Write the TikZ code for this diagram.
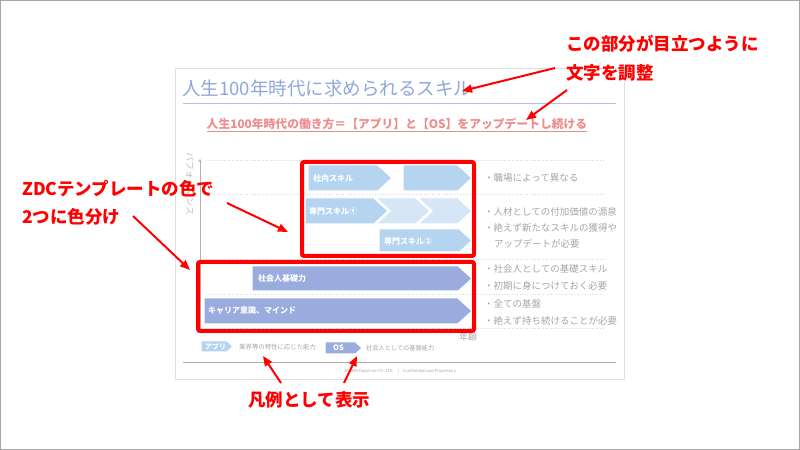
\documentclass[tikz,border=0pt]{standalone}
\usepackage{fontspec}
\setmainfont{Noto Sans CJK JP}
\usepackage{tikz}
\usetikzlibrary{positioning}
\usetikzlibrary{arrows.meta}
\definecolor{appblue}{HTML}{B4D4F0}
\definecolor{applight}{HTML}{D6E6F6}
\definecolor{osblue}{HTML}{9AABDD}
\definecolor{titleblue}{HTML}{8FA8DC}
\definecolor{subred}{HTML}{EC8E8E}
\definecolor{notegray}{HTML}{A6A6A6}
\newcommand{\px}[1]{\fontsize{#1bp}{#1bp}\selectfont}
% x1, x2, top, bottom, notch (0/1)
\newcommand{\skillbar}[6][appblue]{%
  \fill[#1,draw=white,line width=1bp] (#2,#4) -- ({#3-0.55*(#5-#4)},#4) -- (#3,{(#4+#5)/2})
    -- ({#3-0.55*(#5-#4)},#5) -- (#2,#5) -- ({#2+#6*0.55*(#5-#4)},{(#4+#5)/2}) -- cycle;}
\tikzset{
  x=1bp,y=-1bp,
  every node/.style={inner sep=0pt},
  redbox/.style={draw=red,line width=4bp,rounded corners=2bp},
  callout/.style={text=red,font=\px{17.5}\bfseries,anchor=west},
  pointer/.style={draw=red,line width=2bp,-{Triangle[length=10bp,width=8bp]}},
  barlabel/.style={text=white,font=\px{8}\bfseries,anchor=west},
  note/.style={text=notegray,font=\px{9.5},anchor=west},
  gridline/.style={draw=black!15,dotted,line width=0.6bp}
}

\begin{document}
\begin{tikzpicture}
  \useasboundingbox (0,0) rectangle (800,450);
  \draw[black!35,line width=1.5bp] (0.75,0.75) rectangle (799.25,449.25);
  % slide
  \draw[black!12,fill=white] (175,68) rectangle (624,379);
  \node[anchor=west,text=titleblue,font=\px{18.5}] (title) at (182,88) {人生100年時代に求められるスキル};
  \draw[titleblue!70,line width=0.8bp] (183,103) -- (616,103);
  \node[text=subred,font=\px{11.8}\bfseries] (motto) at (397,125) {\underline{人生100年時代の働き方＝【アプリ】と【OS】をアップデートし続ける}};
  % axes and rows
  \foreach \y in {160,194,259,294,328}
    \draw[gridline] (206,\y) -- (604,\y);
  \coordinate (origin) at (200,330);
  \coordinate (top) at (200,159);
  \draw[black!30,-{Stealth[length=3bp,width=3bp]}] (origin) -- (top);
  \node[rotate=-90,text=black!25,font=\px{9}] (perf) at (190,184) {パフォーマンス};
  \node[text=notegray,font=\px{9}] (age) at (468,337) {年齢};
  % bars
  \skillbar{308}{392}{165}{191}{0}
  \skillbar{403}{472}{165}{191}{0}
  \skillbar[applight]{418}{472}{198}{224}{1}
  \skillbar[applight]{376}{430}{198}{224}{1}
  \skillbar{305}{388}{198}{224}{0}
  \skillbar{379}{472}{229}{252}{0}
  \skillbar[osblue]{252}{472}{266}{291}{0}
  \skillbar[osblue]{204}{472}{298}{324}{0}
  \node[barlabel] (inhouse) at (313,178) {社内スキル};
  \node[barlabel] (expert1) at (309,211) {専門スキル①};
  \node[barlabel] (expert2) at (384,241) {専門スキル②};
  \node[barlabel] (basic) at (258,278.5) {社会人基礎力};
  \node[barlabel] (career) at (208,311) {キャリア意識、マインド};
  \draw[redbox] (302,162) rectangle (474,256);
  \draw[redbox] (198,262) rectangle (474,331);
  % notes
  \foreach \t/\y [count=\i] in {職場によって異なる/178,人材としての付加価値の源泉/212,
      絶えず新たなスキルの獲得や/228,社会人としての基礎スキル/269,
      初期に身につけておく必要/286,全ての基盤/304,絶えず持ち続けることが必要/321}
    \node[note] (note\i) at (484,\y) {・\t};
  \node[note] (note3b) at (494,244) {アップデートが必要};
  % legend
  \skillbar{201}{233}{341}{352}{0}
  \skillbar[osblue]{325}{362}{342}{354}{0}
  \node[barlabel,font=\px{7}\bfseries] (lgapp) at (205,346.5) {アプリ};
  \node[note,font=\px{6.4}] (lgapptext) at (239,347) {業界等の特性に応じた能力};
  \node[barlabel,font=\px{7.5}\bfseries] (lgos) at (333,348) {OS};
  \node[note,font=\px{6.2}] (lgostext) at (366,348) {社会人としての基盤能力};
  % footer
  \draw[black!30] (183,362) -- (616,362);
  \node[text=black!35,font=\px{4}] (footer) at (400,371) {ZENRIN DataCom CO., LTD.\quad|\quad Confidential and Proprietary};
  % callouts
  \node[callout] (cmain) at (566,44) {この部分が目立つように};
  \node[callout] (cfont) at (566,73) {文字を調整};
  \node[callout] (czdc) at (22,189) {ZDCテンプレートの色で};
  \node[callout] (csplit) at (22,217) {2つに色分け};
  \node[callout] (clegend) at (248,400) {凡例として表示};
  \coordinate (fromtitle) at (555,68);   \coordinate (totitle) at (462,91);
  \coordinate (frommotto) at (567,90);   \coordinate (tomotto) at (526,120);
  \coordinate (fromapp) at (227,203);    \coordinate (toapp) at (288,232);
  \coordinate (fromos) at (133,216);     \coordinate (toos) at (190,270);
  \coordinate (fromlgapp) at (281,383);  \coordinate (tolgapp) at (263,356);
  \coordinate (fromlgos) at (344,383);   \coordinate (tolgos) at (357,356);
  \foreach \a/\b in {fromtitle/totitle,frommotto/tomotto,fromapp/toapp,
      fromos/toos,fromlgapp/tolgapp,fromlgos/tolgos}
    \draw[pointer] (\a) -- (\b);
\end{tikzpicture}
\end{document}
